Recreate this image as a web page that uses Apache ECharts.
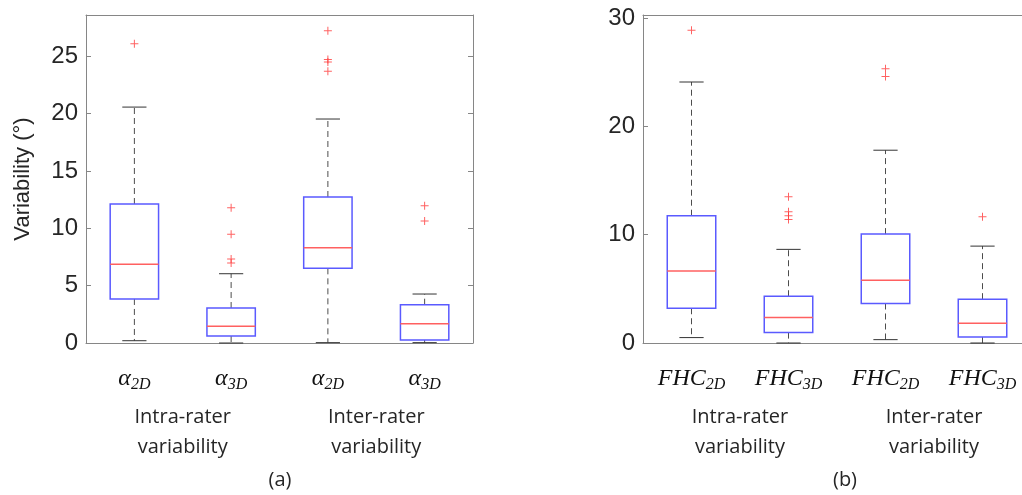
<!DOCTYPE html>
<html>
<head>
<meta charset="utf-8">
<script src="https://cdn.jsdelivr.net/npm/echarts@6/dist/echarts.min.js"></script>
<style>html,body{margin:0;padding:0;background:#fff;}#c{width:1022px;height:495px;}</style>
</head>
<body>
<div id="c"></div>
<script>
// ---- data ----
const categoriesA = ['α_2D', 'α_3D', 'α_2D', 'α_3D'];
const categoriesB = ['FHC_2D', 'FHC_3D', 'FHC_2D', 'FHC_3D'];
const groups = ['Intra-rater\nvariability', 'Inter-rater\nvariability'];
// [lower whisker, Q1, median, Q3, upper whisker]
const boxA = [
  [0.2, 3.84, 6.86, 12.12, 20.57],
  [0.0, 0.61, 1.45, 3.05, 6.04],
  [0.03, 6.51, 8.31, 12.73, 19.53],
  [0.03, 0.26, 1.68, 3.34, 4.27]
];
const outliersA = [
  [26.1],
  [11.8, 9.48, 7.32, 6.97],
  [27.23, 24.73, 24.5, 23.69],
  [11.97, 10.64]
];
const boxB = [
  [0.5, 3.21, 6.64, 11.76, 24.11],
  [0.0, 0.96, 2.35, 4.32, 8.65],
  [0.31, 3.65, 5.8, 10.06, 17.81],
  [0.0, 0.56, 1.82, 4.05, 8.95]
];
const outliersB = [
  [28.89],
  [13.52, 12.13, 11.76, 11.4],
  [25.34, 24.63],
  [11.67]
];
const yTicksA = {min: 0, max: 28.6, interval: 5};
const yTicksB = {min: 0, max: 30.3, interval: 10};

// ---- styles ----
const AX = '#868686';
const TXT = '#262626';
const catRich = {
  a: {fontFamily: 'Liberation Serif', fontStyle: 'italic', fontSize: 24, color: '#111', lineHeight: 28},
  s: {fontFamily: 'Liberation Serif', fontStyle: 'italic', fontSize: 16, color: '#111', lineHeight: 28, padding: [11, 0, 0, 0]}
};
function catFmt(v) { const p = v.split('_'); return '{a|' + p[0] + '}{s|' + p[1] + '}'; }

function renderBox(params, api) {
  const x = api.value(0);
  const lo = api.coord([x, api.value(1)]);
  const q1 = api.coord([x, api.value(2)]);
  const md = api.coord([x, api.value(3)]);
  const q3 = api.coord([x, api.value(4)]);
  const hi = api.coord([x, api.value(5)]);
  const band = api.size([1, 0])[0];
  const bw = band * 0.5, cw = band * 0.25;
  const cx = lo[0];
  const wStyle = {stroke: '#4d4d4d', lineWidth: 1, lineDash: [6, 4]};
  const cStyle = {stroke: '#333', lineWidth: 1};
  return {type: 'group', children: [
    {type: 'line', shape: {x1: cx, y1: q3[1], x2: cx, y2: hi[1]}, style: wStyle},
    {type: 'line', shape: {x1: cx, y1: q1[1], x2: cx, y2: lo[1]}, style: wStyle},
    {type: 'line', shape: {x1: cx - cw / 2, y1: hi[1], x2: cx + cw / 2, y2: hi[1]}, style: cStyle},
    {type: 'line', shape: {x1: cx - cw / 2, y1: lo[1], x2: cx + cw / 2, y2: lo[1]}, style: cStyle},
    {type: 'rect', shape: {x: cx - bw / 2, y: q3[1], width: bw, height: q1[1] - q3[1]}, style: {fill: 'none', stroke: '#5a5aff', lineWidth: 1.5}},
    {type: 'line', shape: {x1: cx - bw / 2, y1: md[1], x2: cx + bw / 2, y2: md[1]}, style: {stroke: '#ff6060', lineWidth: 1.5}}
  ]};
}

const PLUS = 'path://M3.5,0H4.5V3.5H8V4.5H4.5V8H3.5V4.5H0V3.5H3.5Z';

function boxData(b) { return b.map((r, i) => [i].concat(r)); }
function outData(o) { const d = []; o.forEach((arr, i) => arr.forEach(v => d.push([i, v]))); return d; }

function xAxes(gi, cats) {
  return [
    {gridIndex: gi, type: 'category', data: cats, position: 'bottom',
     axisLine: {onZero: false, lineStyle: {color: AX}}, axisTick: {inside: true, alignWithLabel: true, length: 5, lineStyle: {color: AX}},
     axisLabel: {interval: 0, formatter: catFmt, rich: catRich, margin: 22}},
    {gridIndex: gi, type: 'category', data: cats, position: 'top',
     axisLine: {onZero: false, lineStyle: {color: AX}}, axisTick: {inside: true, alignWithLabel: true, length: 5, lineStyle: {color: AX}},
     axisLabel: {show: false}},
    {gridIndex: gi, type: 'category', data: groups, position: 'bottom',
     axisLine: {show: false, onZero: false}, axisTick: {show: false},
     axisLabel: {interval: 0, fontFamily: 'Open Sans', fontSize: 20, color: TXT, lineHeight: 30, margin: 59}}
  ];
}
function yAxes(gi, t, name) {
  const fmt = v => (Math.abs(v / t.interval - Math.round(v / t.interval)) < 1e-6 ? String(v) : '');
  return [
    {gridIndex: gi, type: 'value', min: t.min, max: t.max, interval: t.interval, position: 'left',
     name: name, nameLocation: 'middle', nameGap: 52, nameTextStyle: {fontFamily: 'Liberation Sans', fontSize: 22, color: TXT},
     splitLine: {show: false}, axisLine: {show: true, onZero: false, lineStyle: {color: AX}},
     axisTick: {show: true, inside: true, length: 5, lineStyle: {color: AX}},
     axisLabel: {fontFamily: 'Liberation Sans', fontSize: 24, color: TXT, margin: 8, formatter: fmt}},
    {gridIndex: gi, type: 'value', min: t.min, max: t.max, interval: t.interval, position: 'right',
     splitLine: {show: false}, axisLine: {show: true, onZero: false, lineStyle: {color: AX}},
     axisTick: {show: true, inside: true, length: 5, lineStyle: {color: AX}},
     axisLabel: {show: false}}
  ];
}

const chart = echarts.init(document.getElementById('c'), null, {renderer: 'canvas'});
chart.setOption({
  animation: false,
  backgroundColor: '#fff',
  grid: [
    {left: 86, top: 15, width: 387, height: 328, outerBoundsMode: 'none', containLabel: false},
    {left: 643, top: 15, width: 388, height: 328, outerBoundsMode: 'none', containLabel: false}
  ],
  xAxis: xAxes(0, categoriesA).concat(xAxes(1, categoriesB)),
  yAxis: yAxes(0, yTicksA, 'Variability (°)').concat(yAxes(1, yTicksB, '')),
  series: [
    {type: 'custom', xAxisIndex: 0, yAxisIndex: 0, renderItem: renderBox, data: boxData(boxA), encode: {x: 0, y: [1, 2, 3, 4, 5]}},
    {type: 'scatter', xAxisIndex: 0, yAxisIndex: 0, symbol: PLUS, symbolSize: 8, itemStyle: {color: '#ff3b3b'}, data: outData(outliersA)},
    {type: 'custom', xAxisIndex: 3, yAxisIndex: 2, renderItem: renderBox, data: boxData(boxB), encode: {x: 0, y: [1, 2, 3, 4, 5]}},
    {type: 'scatter', xAxisIndex: 3, yAxisIndex: 2, symbol: PLUS, symbolSize: 8, itemStyle: {color: '#ff3b3b'}, data: outData(outliersB)}
  ],
  graphic: [
    {type: 'text', x: 280, y: 480, style: {text: '(a)', fontFamily: 'Open Sans', fontSize: 20, fill: TXT, textAlign: 'center', textVerticalAlign: 'middle'}},
    {type: 'text', x: 845, y: 480, style: {text: '(b)', fontFamily: 'Open Sans', fontSize: 20, fill: TXT, textAlign: 'center', textVerticalAlign: 'middle'}}
  ]
});
</script>
</body>
</html>
